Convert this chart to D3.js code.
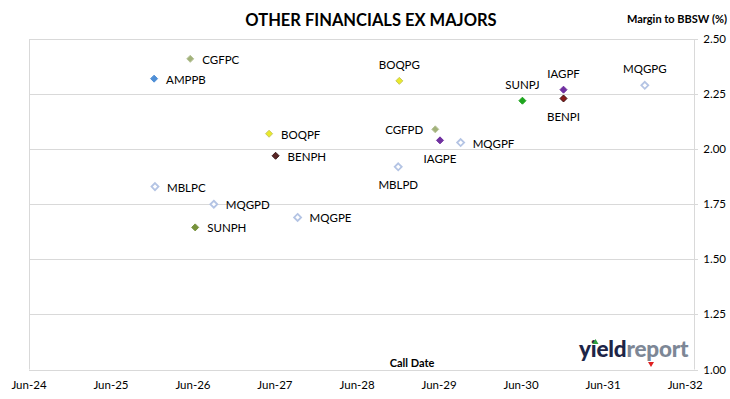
<!DOCTYPE html>
<html>
<head>
<meta charset="utf-8">
<script src="https://cdn.jsdelivr.net/npm/d3@7"></script>
<style>
  body { margin: 0; background: #fff; }
  text { font-family: Lato, "Liberation Sans", sans-serif; }
</style>
</head>
<body>
<script>
// chart data
var securities = ["AMPPB","CGFPC","BOQPF","BENPH","MBLPC","MQGPD","MQGPE","SUNPH",
                  "BOQPG","CGFPD","IAGPE","MQGPF","MBLPD","SUNPJ","IAGPF","BENPI","MQGPG"];
var callDates = ["2025-12-10","2026-05-20","2027-05-06","2027-06-04","2025-12-14","2026-09-02","2027-09-10","2026-06-11",
                 "2028-12-06","2029-05-15","2029-06-05","2029-09-05","2028-12-01","2030-06-07","2030-12-07","2030-12-07","2031-12-04"];
var margins = [2.32, 2.41, 2.07, 1.97, 1.83, 1.75, 1.69, 1.645,
               2.31, 2.09, 2.04, 2.03, 1.92, 2.22, 2.27, 2.23, 2.29];
var yTicks = [1.00, 1.25, 1.50, 1.75, 2.00, 2.25, 2.50];
var xTickLabels = ["Jun-24","Jun-25","Jun-26","Jun-27","Jun-28","Jun-29","Jun-30","Jun-31","Jun-32"];

// issuer colours
var issuerColor = {
  AMP: {fill: "#4f8fd6", stroke: "#4f8fd6"},
  CGF: {fill: "#a2b27a", stroke: "#b8c49a"},
  BOQ: {fill: "#eaea2a", stroke: "#c8c860"},
  BEN: {fill: "#8b1a1a", stroke: "#3a1010"},
  MBL: {fill: "#ffffff", stroke: "#b4c4e4"},
  MQG: {fill: "#ffffff", stroke: "#b4c4e4"},
  SUN: {fill: "#77933c", stroke: "#77933c"},
  IAG: {fill: "#7030a0", stroke: "#7030a0"}
};
var colorOverride = { BENPH: {fill: "#5a2626", stroke: "#3a1a1a"}, SUNPJ: {fill: "#1ea51e", stroke: "#1ea51e"} };

// where each label sits relative to its point
var labelPos = { BOQPG: "top", SUNPJ: "top", IAGPF: "top", MQGPG: "top",
                 IAGPE: "bottom", MBLPD: "bottom", BENPI: "bottom", CGFPD: "left" };

var width = 730, height = 399;
var plotLeft = 29, plotRight = 694, plotTop = 39, plotBottom = 369.5;

var parse = d3.timeParse("%Y-%m-%d");
var points = securities.map(function(s, i){
  return {name: s, date: parse(callDates[i]), margin: margins[i]};
});

var svg = d3.select("body").append("svg")
  .attr("width", width).attr("height", height);

var x = d3.scaleTime()
  .domain([new Date(2024, 5, 1), new Date(2032, 6, 10)])
  .range([plotLeft, plotRight]);
var y = d3.scaleLinear().domain([1, 2.5]).range([plotBottom, plotTop]);

// gridlines
svg.append("g").selectAll("line").data(yTicks).enter().append("line")
  .attr("x1", plotLeft).attr("x2", plotRight + 4)
  .attr("y1", function(d){ return Math.round(y(d)) + 0.5; })
  .attr("y2", function(d){ return Math.round(y(d)) + 0.5; })
  .attr("stroke", "#d9d9d9").attr("stroke-width", 1);

// plot border left/right
svg.append("line").attr("x1", plotLeft + 0.5).attr("x2", plotLeft + 0.5)
  .attr("y1", plotTop).attr("y2", plotBottom).attr("stroke", "#d9d9d9");
svg.append("line").attr("x1", plotRight + 0.5).attr("x2", plotRight + 0.5)
  .attr("y1", plotTop).attr("y2", plotBottom).attr("stroke", "#d9d9d9");

// right axis labels
svg.append("g").selectAll("text").data(yTicks).enter().append("text")
  .attr("x", 726).attr("y", function(d){ return y(d); })
  .attr("dy", "0.35em").attr("text-anchor", "end")
  .attr("font-size", 11.5).attr("fill", "#000")
  .text(function(d){ return d3.format(".2f")(d); });

// x axis labels
var xTickDates = xTickLabels.map(function(l){ return d3.timeParse("%b-%y")(l); });
svg.append("g").selectAll("text").data(xTickLabels).enter().append("text")
  .attr("x", function(d, i){ return x(xTickDates[i]); })
  .attr("y", 385).attr("dy", "0.35em").attr("text-anchor", "middle")
  .attr("font-size", 11.5).attr("fill", "#000")
  .text(function(d){ return d; });

// titles
svg.append("text").attr("x", 371).attr("y", 20).attr("dy", "0.35em")
  .attr("text-anchor", "middle").attr("font-size", 16.5).attr("font-weight", "bold")
  .attr("fill", "#000").text("OTHER FINANCIALS EX MAJORS");
svg.append("text").attr("x", 727).attr("y", 19).attr("dy", "0.35em")
  .attr("text-anchor", "end").attr("font-size", 11).attr("font-weight", "bold")
  .attr("fill", "#000").text("Margin to BBSW (%)");
svg.append("text").attr("x", 412).attr("y", 363).attr("dy", "0.35em")
  .attr("text-anchor", "middle").attr("font-size", 11).attr("font-weight", "bold")
  .attr("fill", "#000").text("Call Date");

// logo
var logo = svg.append("text").attr("x", 579).attr("y", 357)
  .attr("font-size", 22.5).attr("font-weight", "900").attr("letter-spacing", "-0.2");
logo.append("tspan").attr("fill", "#1d2547").text("yield");
logo.append("tspan").attr("fill", "#7d8796").text("report");
svg.append("path").attr("d", "M592.5,344 L595.5,339 L598.5,344 Z").attr("fill", "#2e9e3e");
svg.append("path").attr("d", "M648,362 L654,362 L651,367 Z").attr("fill", "#e02020");

// points
function colorOf(name){
  return colorOverride[name] || issuerColor[name.slice(0, 3)];
}
var diamond = "M0,-3.5 L3.5,0 L0,3.5 L-3.5,0 Z";
var marks = svg.append("g").selectAll("g").data(points).enter().append("g");
marks.append("path")
  .attr("transform", function(d){ return "translate(" + x(d.date) + "," + y(d.margin) + ")"; })
  .attr("d", diamond)
  .attr("fill", function(d){ return colorOf(d.name).fill; })
  .attr("stroke", function(d){ return colorOf(d.name).stroke; })
  .attr("stroke-width", function(d){ return colorOf(d.name).fill === "#ffffff" ? 1.8 : 1; });

marks.append("text")
  .attr("font-size", 11.5).attr("fill", "#000")
  .attr("x", function(d){
    var p = labelPos[d.name];
    if (p === "left") return x(d.date) - 12;
    if (p === "top" || p === "bottom") return x(d.date);
    return x(d.date) + 12;
  })
  .attr("y", function(d){
    var p = labelPos[d.name];
    if (p === "top") return y(d.margin) - 16;
    if (p === "bottom") return y(d.margin) + 18.5;
    return y(d.margin) + 1;
  })
  .attr("dy", "0.35em")
  .attr("text-anchor", function(d){
    var p = labelPos[d.name];
    if (p === "left") return "end";
    if (p === "top" || p === "bottom") return "middle";
    return "start";
  })
  .text(function(d){ return d.name; });
</script>
</body>
</html>
